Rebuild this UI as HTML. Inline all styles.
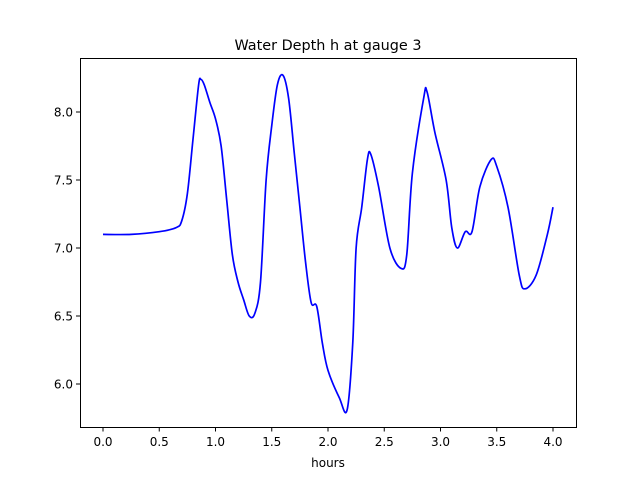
<!DOCTYPE html>
<html><head><meta charset="utf-8"><style>body{margin:0;background:#fff}svg{display:block;font-family:"DejaVu Sans","Liberation Sans",sans-serif}</style></head>
<body>
<svg id="s" width="640" height="480" xmlns="http://www.w3.org/2000/svg">
<rect width="640" height="480" fill="#fff"/>
<text x="328" y="50" font-size="14.4" text-anchor="middle">Water Depth h at gauge 3</text>
<path id="c" fill="none" stroke="#0000ff" stroke-width="1.7"/>
<rect x="80.5" y="58.5" width="496" height="369" fill="none" stroke="#000" stroke-width="1"/>
<g id="t" font-size="12"></g>
<text x="328" y="467" font-size="12" text-anchor="middle">hours</text>
</svg>
<script>
var X=function(h){return 103+112.5*h},Y=function(v){return 248-136*(v-7)};
var ns="http://www.w3.org/2000/svg",g=document.getElementById('t');
function el(n,a,txt){var e=document.createElementNS(ns,n);for(var k in a)e.setAttribute(k,a[k]);if(txt)e.textContent=txt;g.appendChild(e);}
for(var i=0;i<=8;i++){var x=X(i*0.5);el('line',{x1:x,x2:x,y1:427,y2:431.5,stroke:'#000'});el('text',{x:x,y:446,'text-anchor':'middle'},(i*0.5).toFixed(1));}
for(var v=6;v<=8.01;v+=0.5){var y=Y(v);el('line',{x1:76,x2:80,y1:y,y2:y,stroke:'#000'});el('text',{x:73,y:y+4.5,'text-anchor':'end'},v.toFixed(1));}
var d=[[0,7.10],[0.25,7.10],[0.5,7.12],[0.65,7.15],[0.7,7.2],[0.75,7.4],[0.8,7.8],[0.85,8.2],[0.87,8.24],[0.9,8.2],[0.95,8.07],[1.0,7.95],[1.05,7.75],[1.1,7.35],[1.15,6.95],[1.2,6.75],[1.25,6.62],[1.3,6.5],[1.35,6.52],[1.4,6.75],[1.45,7.5],[1.5,7.9],[1.55,8.2],[1.6,8.27],[1.65,8.1],[1.7,7.7],[1.75,7.3],[1.8,6.9],[1.85,6.6],[1.9,6.57],[1.95,6.3],[2.0,6.1],[2.1,5.9],[2.17,5.81],[2.22,6.3],[2.25,7.0],[2.3,7.3],[2.35,7.65],[2.38,7.69],[2.45,7.45],[2.55,7.0],[2.65,6.85],[2.7,6.95],[2.75,7.55],[2.85,8.1],[2.88,8.15],[2.95,7.85],[3.05,7.5],[3.1,7.15],[3.15,7.0],[3.22,7.12],[3.28,7.12],[3.35,7.45],[3.45,7.65],[3.5,7.6],[3.6,7.3],[3.7,6.8],[3.75,6.7],[3.85,6.8],[3.95,7.1],[4.0,7.3]];
var p=d.map(function(a){return [X(a[0]),Y(a[1])]}),s='M'+p[0][0]+','+p[0][1];
for(var i=0;i<p.length-1;i++){var p0=p[i-1]||p[i],p1=p[i],p2=p[i+1],p3=p[i+2]||p2;
s+='C'+(p1[0]+(p2[0]-p0[0])/6)+','+(p1[1]+(p2[1]-p0[1])/6)+' '+(p2[0]-(p3[0]-p1[0])/6)+','+(p2[1]-(p3[1]-p1[1])/6)+' '+p2[0]+','+p2[1];}
document.getElementById('c').setAttribute('d',s);
</script>
</body></html>
